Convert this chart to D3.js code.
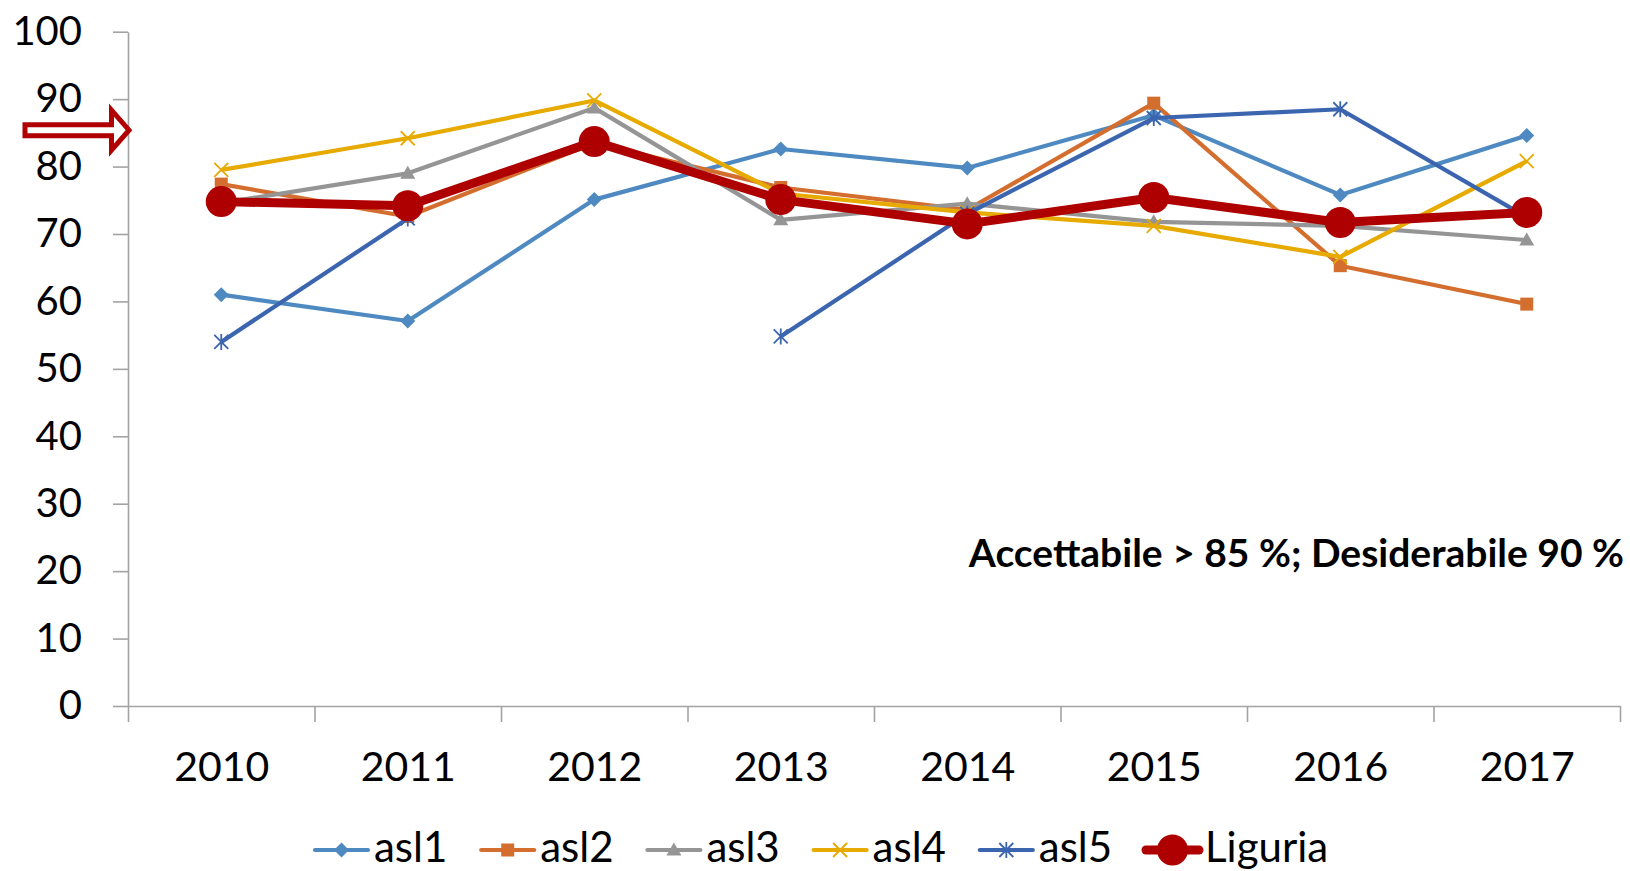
<!DOCTYPE html>
<html>
<head>
<meta charset="utf-8">
<script src="https://cdn.jsdelivr.net/npm/d3@7"></script>
<style>
  body { margin: 0; background: #fff; }
  svg { display: block; }
  text { font-family: Lato, "Open Sans", sans-serif; fill: #000; }
</style>
</head>
<body>
<svg id="chart" width="1630" height="871"></svg>
<script>
// ---- data ----
const years = ["2010", "2011", "2012", "2013", "2014", "2015", "2016", "2017"];
const yTicks = [0, 10, 20, 30, 40, 50, 60, 70, 80, 90, 100];
const seriesNames = ["asl1", "asl2", "asl3", "asl4", "asl5", "Liguria"];
const asl1 = [61.0, 57.1, 75.1, 82.6, 79.8, 87.6, 75.8, 84.6];
const asl2 = [77.4, 72.6, 83.5, 76.9, 73.6, 89.4, 65.3, 59.6];
const asl3 = [74.6, 79.0, 88.7, 72.1, 74.5, 71.8, 71.2, 69.1];
const asl4 = [79.5, 84.2, 89.8, 76.0, 73.2, 71.2, 66.6, 80.8];
const asl5 = [54.0, 72.3, null, 54.8, 73.0, 87.2, 88.5, 72.5];
const liguria = [74.8, 74.2, 83.7, 75.1, 71.5, 75.4, 71.7, 73.2];
const noteText = "Accettabile > 85 %; Desiderabile 90 %";
const arrowLevel = 85.4;

// ---- styles per series ----
const styles = {
  asl1:    { color: "#4e8ac1", width: 4.2, marker: "diamond" },
  asl2:    { color: "#d46e2e", width: 4.2, marker: "square" },
  asl3:    { color: "#959595", width: 4.2, marker: "triangle" },
  asl4:    { color: "#e6aa00", width: 4.2, marker: "cross" },
  asl5:    { color: "#3c65b0", width: 4.2, marker: "star" },
  Liguria: { color: "#ae0000", width: 9,   marker: "circle" }
};
const seriesValues = [asl1, asl2, asl3, asl4, asl5, liguria];

const svg = d3.select("#chart");
const plotLeft = 128, plotRight = 1620, plotTop = 31.7, plotBottom = 706;

const x = d3.scalePoint().domain(years).range([plotLeft, plotRight]).padding(0.5);
const xEdge = d3.scaleLinear().domain([0, years.length]).range([plotLeft, plotRight]);
const y = d3.scaleLinear().domain([0, 100]).range([plotBottom, plotTop]);

const axisColor = "#a3a3a3";

// y axis
const gy = svg.append("g").attr("transform", `translate(${plotLeft},0)`)
  .call(d3.axisLeft(y).tickValues(yTicks).tickSize(15).tickSizeOuter(0).tickPadding(31));
// x axis: boundary ticks
const gxe = svg.append("g").attr("transform", `translate(0,${plotBottom})`)
  .call(d3.axisBottom(xEdge).tickValues(d3.range(years.length + 1)).tickSize(16)
    .tickSizeOuter(0).tickFormat(""));
// x axis: category labels
const gx = svg.append("g").attr("transform", `translate(0,${plotBottom})`)
  .call(d3.axisBottom(x).tickSize(0).tickPadding(46));
gx.select(".domain").remove();

[gy, gxe, gx].forEach(g => {
  g.selectAll("path.domain, line").attr("stroke", axisColor).attr("stroke-width", 1.6);
  g.selectAll("text").attr("font-family", "Lato, 'Open Sans', sans-serif").attr("fill", "#000");
});
gy.selectAll("text").attr("font-size", 40);
gx.selectAll("text").attr("font-size", 41);

// marker drawing
function drawMarker(g, type, color) {
  switch (type) {
    case "diamond":
      g.append("path").attr("d", "M0,-7.5L7.5,0L0,7.5L-7.5,0Z").attr("fill", color); break;
    case "square":
      g.append("rect").attr("x", -6.5).attr("y", -6.5).attr("width", 13).attr("height", 13).attr("fill", color); break;
    case "triangle":
      g.append("path").attr("d", "M0,-7.5L7.5,5.5L-7.5,5.5Z").attr("fill", color); break;
    case "cross":
      g.append("path").attr("d", "M-7,-7L7,7M-7,7L7,-7").attr("stroke", color).attr("stroke-width", 1.8).attr("fill", "none"); break;
    case "star":
      g.append("path").attr("d", "M-7,-7L7,7M-7,7L7,-7M0,-8L0,8").attr("stroke", color).attr("stroke-width", 1.8).attr("fill", "none"); break;
    case "circle":
      g.append("circle").attr("r", 15.5).attr("fill", color); break;
  }
}

// series lines and markers
const line = d3.line()
  .defined(d => d.v !== null)
  .x(d => x(d.year))
  .y(d => y(d.v));

seriesNames.forEach((name, i) => {
  const st = styles[name];
  const pts = years.map((yr, j) => ({ year: yr, v: seriesValues[i][j] }));
  const g = svg.append("g");
  g.append("path").datum(pts).attr("d", line)
    .attr("fill", "none").attr("stroke", st.color).attr("stroke-width", st.width)
    .attr("stroke-linejoin", "round");
  pts.filter(d => d.v !== null).forEach(d => {
    const m = g.append("g").attr("transform", `translate(${x(d.year)},${y(d.v)})`);
    drawMarker(m, st.marker, st.color);
  });
});

// threshold arrow on the y axis
const ay = y(arrowLevel);
svg.append("path")
  .attr("d", `M25,${ay - 5.5}L111.5,${ay - 5.5}L111.5,${ay - 20}L129,${ay}L111.5,${ay + 20}L111.5,${ay + 5.5}L25,${ay + 5.5}Z`)
  .attr("fill", "#fff").attr("stroke", "#b00000").attr("stroke-width", 5);

// note
svg.append("text").attr("x", 1624).attr("y", 567).attr("text-anchor", "end")
  .attr("font-size", 39).attr("font-weight", "bold").text(noteText);

// legend
const legend = svg.append("g").attr("transform", "translate(315,850)");
seriesNames.forEach((name, i) => {
  const st = styles[name];
  const g = legend.append("g").attr("transform", `translate(${i * 166.2},0)`);
  g.append("line").attr("x1", 0).attr("x2", 53).attr("y1", 0).attr("y2", 0)
    .attr("stroke", st.color).attr("stroke-width", st.width).attr("stroke-linecap", "round");
  drawMarker(g.append("g").attr("transform", "translate(26.5,0)"), st.marker, st.color);
  g.append("text").attr("x", 59).attr("y", 12).attr("font-size", 42).text(name);
});
</script>
</body>
</html>
